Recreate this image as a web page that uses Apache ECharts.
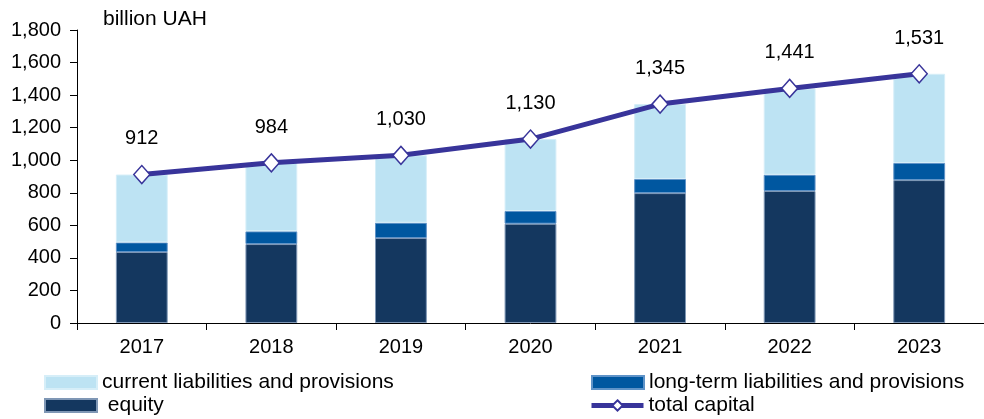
<!DOCTYPE html>
<html><head><meta charset="utf-8">
<script src="https://cdn.jsdelivr.net/npm/echarts@6/dist/echarts.min.js"></script>
<style>html,body{margin:0;padding:0;background:#fff}#c{width:984px;height:419px}</style>
</head><body><div id="c"></div>
<script>
const years = ['2017','2018','2019','2020','2021','2022','2023'];
const equity = [436, 485, 522, 610, 798, 811, 878];
const longTerm = [59, 78, 94, 78, 87, 100, 105];
const current = [417, 421, 414, 442, 460, 530, 548];
const total = [912, 984, 1030, 1130, 1345, 1441, 1531];
const yTicks = [0, 200, 400, 600, 800, 1000, 1200, 1400, 1600, 1800];

const FONT = '"Liberation Sans", Arial, sans-serif';
const NUM = 20, TXT = 21;
function lg(item, left, top, fmt) {
  return {left: left, top: top, padding: 0, itemWidth: 52, itemHeight: 13, itemGap: 0,
    formatter: fmt || (n => n),
    textStyle: {fontFamily: FONT, fontSize: TXT, color: '#000'}, data: [item]};
}
const chart = echarts.init(document.getElementById('c'));
chart.setOption({
  animation: false,
  textStyle: {fontFamily: FONT},
  title: {text: 'billion UAH', left: 103, top: 9, padding: 0,
    textStyle: {fontFamily: FONT, fontSize: TXT, fontWeight: 'normal', color: '#000'}},
  grid: {left: 77, top: 30, width: 908, height: 293},
  legend: [
    lg({name: 'current liabilities and provisions', icon: 'rect'}, 44, 372),
    lg({name: 'equity', icon: 'rect'}, 44, 395, n => ' ' + n),
    lg({name: 'long-term liabilities and provisions', icon: 'rect'}, 591, 372),
    lg({name: 'total capital', lineStyle: {width: 5, color: '#38349A'}}, 589, 395)
  ],
  xAxis: {
    type: 'category', data: years,
    axisLine: {lineStyle: {color: '#000', width: 1}},
    axisTick: {show: true, length: 7, inside: false, lineStyle: {color: '#000'}},
    axisLabel: {fontFamily: FONT, fontSize: NUM, color: '#000', margin: 14}
  },
  yAxis: {
    type: 'value', min: 0, max: 1800, interval: 200,
    splitLine: {show: false},
    axisLine: {show: true, lineStyle: {color: '#000', width: 1}},
    axisTick: {show: true, length: 7, lineStyle: {color: '#000'}},
    axisLabel: {fontFamily: FONT, fontSize: NUM, color: '#000', margin: 16,
      formatter: v => yTicks.includes(v) ? v.toLocaleString('en-US') : ''}
  },
  series: [
    {name: 'equity', type: 'bar', stack: 's', data: equity, barWidth: '40%',
     itemStyle: {color: '#14375F', borderColor: '#7f97b5', borderWidth: 1}},
    {name: 'long-term liabilities and provisions', type: 'bar', stack: 's', data: longTerm,
     itemStyle: {color: '#0057A0', borderColor: '#5f93c8', borderWidth: 1}},
    {name: 'current liabilities and provisions', type: 'bar', stack: 's', data: current,
     itemStyle: {color: '#BDE3F3', borderColor: '#d6eef8', borderWidth: 1}},
    {name: 'total capital', type: 'line', data: total, z: 5,
     lineStyle: {color: '#38349A', width: 5},
     symbol: 'diamond', symbolSize: [16, 18],
     itemStyle: {color: '#fff', borderColor: '#38349A', borderWidth: 1.5},
     label: {show: true, position: 'top', distance: 16, fontFamily: FONT, fontSize: NUM, color: '#000',
       formatter: p => p.value.toLocaleString('en-US')}}
  ]
});
</script></body></html>
